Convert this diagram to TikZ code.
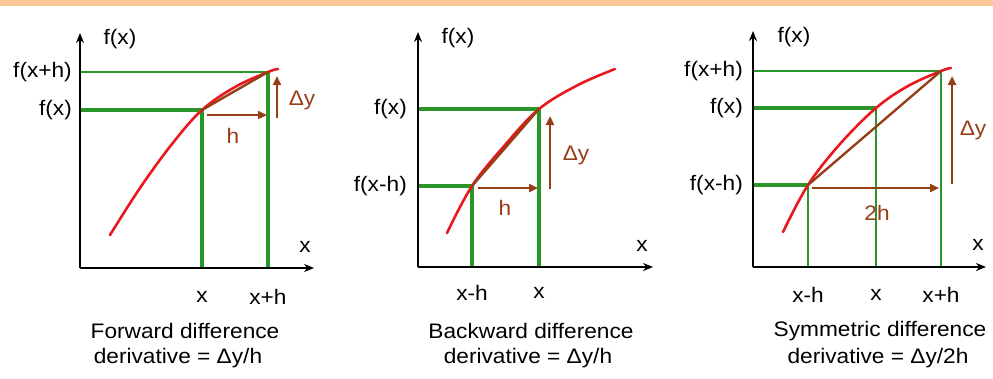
\documentclass[tikz,border=0pt]{standalone}
\usepackage{fontspec}
\setmainfont{Liberation Sans}[FakeStretch=1.08]
\usetikzlibrary{arrows.meta}
\definecolor{band}{RGB}{252,200,154}
\definecolor{grn}{RGB}{40,150,40}
\definecolor{crv}{RGB}{232,24,30}
\definecolor{brn}{RGB}{150,62,22}
\begin{document}
\begin{tikzpicture}[x=1pt,y=-1pt,
  axis/.style={line width=1.8pt,-{Stealth[length=10pt,width=8pt]}},
  gthick/.style={grn,line width=3.6pt},
  gthin/.style={grn,line width=2.2pt},
  curve/.style={crv,line width=2.6pt,line cap=round},
  sec/.style={brn,line width=2.4pt},
  barrow/.style={brn,line width=2.6pt,-{Triangle[length=9pt,width=8pt]}},
  lbl/.style={font=\fontsize{21}{24}\selectfont,inner sep=0pt},
  blbl/.style={lbl,text=brn}]
\useasboundingbox (0,0) rectangle (993,378);
\fill[band] (0,0) rectangle (993,6);

% ---------------- Panel 1: forward
\coordinate (O1) at (80,268);
\coordinate (Y1) at (80,33);
\coordinate (X1) at (314,268);
\coordinate (A1) at (202,110);
\coordinate (B1) at (268,72);
\draw[gthick] (O1 |- A1) -- (A1);
\draw[gthin] (O1 |- B1) -- (B1);
\draw[gthick] (A1) -- (A1 |- O1);
\draw[gthick] (B1) -- (B1 |- O1);
\draw[axis] (O1) -- (Y1);
\draw[axis] (O1) -- (X1);
\draw[curve] plot[smooth,tension=0.6] coordinates {(110,235) (140,188) (172,144) (202,110) (235,87) (268,72) (278,69)};
\draw[sec] (A1) -- (B1);
\coordinate (h1s) at (207,115);
\coordinate (h1e) at (267,115);
\draw[barrow] (h1s) -- (h1e);
\coordinate (d1s) at (277,118);
\coordinate (d1e) at (277,76);
\draw[barrow] (d1s) -- (d1e);
\node[blbl] (hl1) at (233,136) {h};
\node[blbl] (dl1) at (302,100) {Δy};
\node[lbl] (fy1) at (120,39) {f(x)};
\node[lbl] (xl1) at (305,247) {x};
\node[lbl,anchor=east] (fxh1) at (72,72) {f(x+h)};
\node[lbl,anchor=east] (fx1) at (72,110) {f(x)};
\node[lbl] (tx1) at (202,297) {x};
\node[lbl] (txh1) at (268,297) {x+h};
\node[lbl] (t1) at (185,331) {Forward difference};
\node[lbl] (d1) at (178,358) {derivative = Δy/h};

% ---------------- Panel 2: backward
\coordinate (O2) at (418,267);
\coordinate (Y2) at (418,32);
\coordinate (X2) at (653,267);
\coordinate (A2) at (472,186);
\coordinate (B2) at (539,109);
\draw[gthick] (O2 |- A2) -- (A2);
\draw[gthick] (O2 |- B2) -- (B2);
\draw[gthick] (A2) -- (A2 |- O2);
\draw[gthick] (B2) -- (B2 |- O2);
\draw[axis] (O2) -- (Y2);
\draw[axis] (O2) -- (X2);
\draw[curve] plot[smooth,tension=0.6] coordinates {(447,233) (472,186) (505,145) (539,109) (578,85) (615,69)};
\draw[sec] (A2) -- (B2);
\coordinate (h2s) at (478,188);
\coordinate (h2e) at (538,188);
\draw[barrow] (h2s) -- (h2e);
\coordinate (d2s) at (550,189);
\coordinate (d2e) at (550,116);
\draw[barrow] (d2s) -- (d2e);
\node[blbl] (hl2) at (505,208) {h};
\node[blbl] (dl2) at (576,155) {Δy};
\node[lbl] (fy2) at (458,38) {f(x)};
\node[lbl] (xl2) at (642,246) {x};
\node[lbl,anchor=east] (fx2) at (407,109) {f(x)};
\node[lbl,anchor=east] (fxm2) at (407,186) {f(x-h)};
\node[lbl] (txm2) at (472,293) {x-h};
\node[lbl] (tx2) at (539,293) {x};
\node[lbl] (t2) at (531,331) {Backward difference};
\node[lbl] (d2) at (528,358) {derivative = Δy/h};

% ---------------- Panel 3: symmetric
\coordinate (O3) at (753,267);
\coordinate (Y3) at (753,31);
\coordinate (X3) at (986,267);
\coordinate (A3) at (808,185);
\coordinate (M3) at (876,108);
\coordinate (B3) at (941,71);
\draw[gthick] (O3 |- A3) -- (A3);
\draw[gthick] (O3 |- M3) -- (M3);
\draw[gthin] (O3 |- B3) -- (B3);
\draw[gthin] (A3) -- (A3 |- O3);
\draw[gthin] (M3) -- (M3 |- O3);
\draw[gthin] (B3) -- (B3 |- O3);
\draw[axis] (O3) -- (Y3);
\draw[axis] (O3) -- (X3);
\draw[curve] plot[smooth,tension=0.6] coordinates {(783,232) (808,185) (840,144) (876,108) (908,86) (941,71) (951,68)};
\draw[sec] (A3) -- (B3);
\coordinate (h3s) at (812,188);
\coordinate (h3e) at (939,188);
\draw[barrow] (h3s) -- (h3e);
\coordinate (d3s) at (952,184);
\coordinate (d3e) at (952,76);
\draw[barrow] (d3s) -- (d3e);
\node[blbl] (hl3) at (877,213) {2h};
\node[blbl] (dl3) at (973,130) {Δy};
\node[lbl] (fy3) at (794,37) {f(x)};
\node[lbl] (xl3) at (978,245) {x};
\node[lbl,anchor=east] (fxh3) at (743,71) {f(x+h)};
\node[lbl,anchor=east] (fx3) at (743,108) {f(x)};
\node[lbl,anchor=east] (fxm3) at (743,185) {f(x-h)};
\node[lbl] (txm3) at (808,295) {x-h};
\node[lbl] (tx3) at (876,295) {x};
\node[lbl] (txh3) at (941,295) {x+h};
\node[lbl] (t3) at (880,331) {Symmetric difference};
\node[lbl] (d3) at (878,358) {derivative = Δy/2h};
\end{tikzpicture}
\end{document}
